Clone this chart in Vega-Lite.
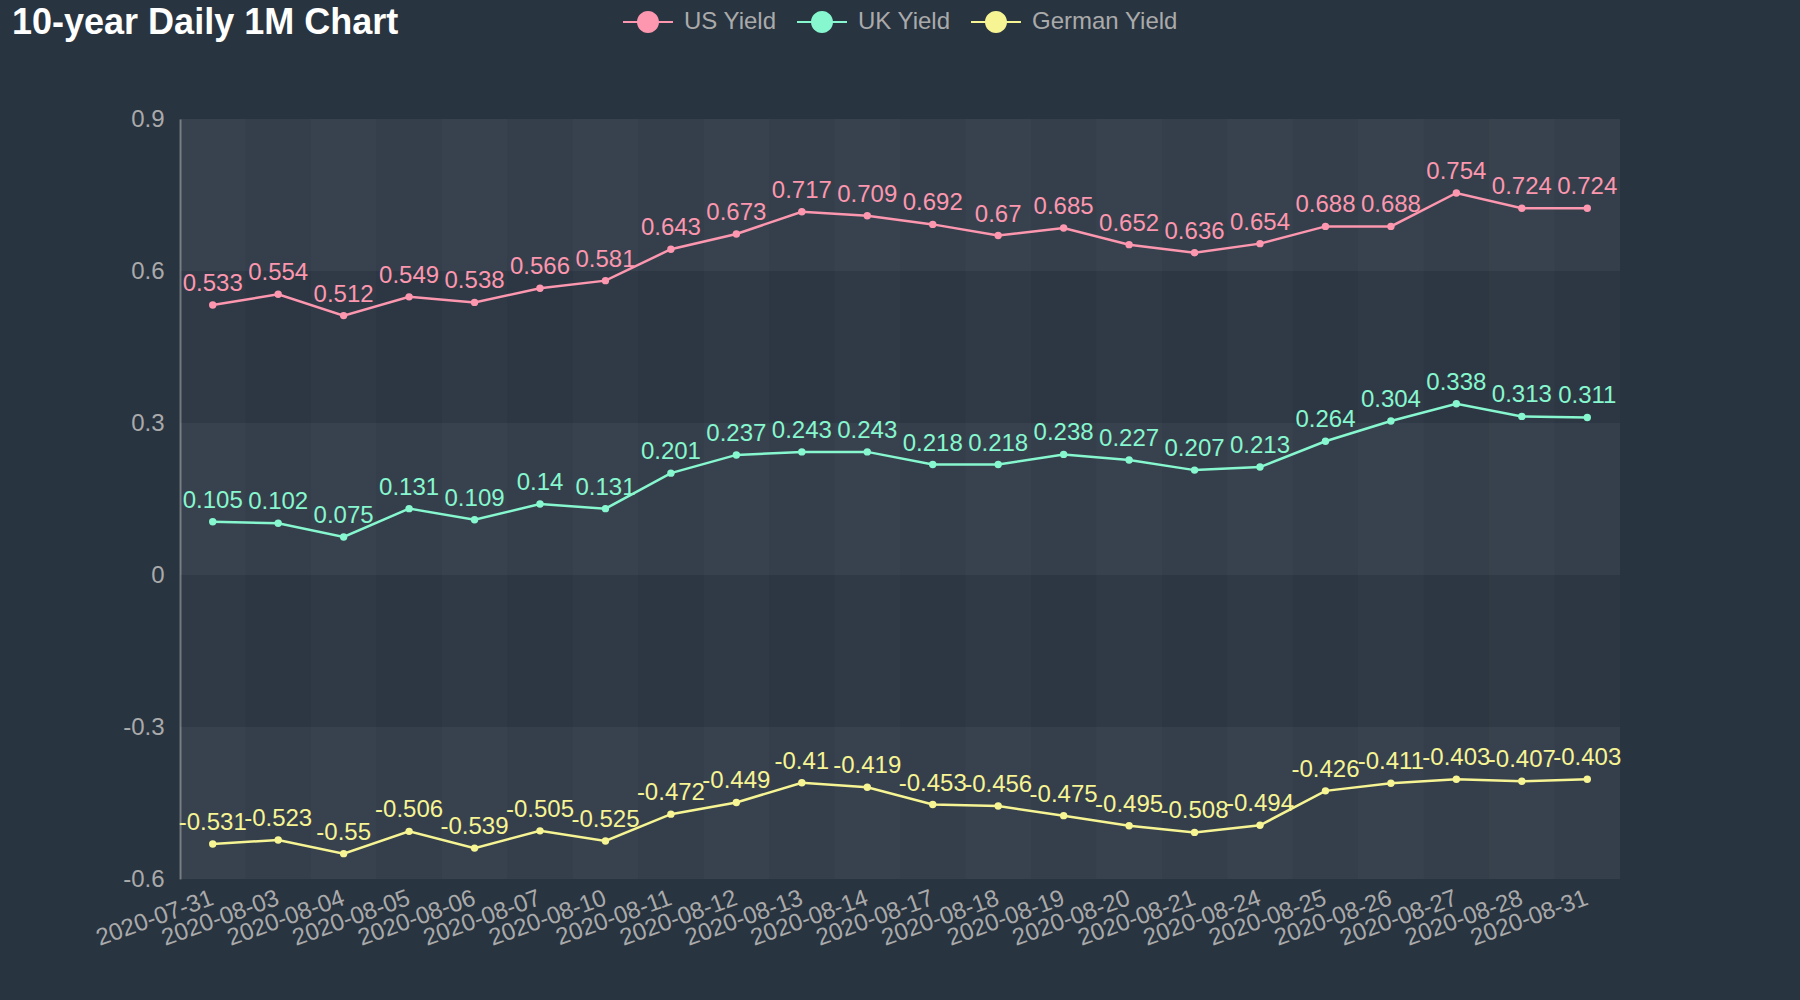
{
  "$schema": "https://vega.github.io/schema/vega-lite/v6.json",
  "description": "10-year government bond yields, daily, Aug 2020",
  "autosize": {"type": "none"},
  "padding": {"left": 180, "top": 119, "right": 180, "bottom": 121},
  "width": 1440,
  "height": 760,
  "background": "#293441",
  "config": {
    "view": {"stroke": null},
    "font": "Liberation Sans"
  },
  "title": {
    "text": "10-year Daily 1M Chart",
    "anchor": "start",
    "frame": "group",
    "fontSize": 36,
    "fontWeight": "bold",
    "color": "#ffffff",
    "font": "Liberation Sans",
    "baseline": "alphabetic",
    "dx": -168,
    "offset": 0,
    "dy": 60
  },
  "datasets": {
    "yields": [
      {"date": "2020-07-31", "series": "US Yield", "yield": 0.533},
      {"date": "2020-08-03", "series": "US Yield", "yield": 0.554},
      {"date": "2020-08-04", "series": "US Yield", "yield": 0.512},
      {"date": "2020-08-05", "series": "US Yield", "yield": 0.549},
      {"date": "2020-08-06", "series": "US Yield", "yield": 0.538},
      {"date": "2020-08-07", "series": "US Yield", "yield": 0.566},
      {"date": "2020-08-10", "series": "US Yield", "yield": 0.581},
      {"date": "2020-08-11", "series": "US Yield", "yield": 0.643},
      {"date": "2020-08-12", "series": "US Yield", "yield": 0.673},
      {"date": "2020-08-13", "series": "US Yield", "yield": 0.717},
      {"date": "2020-08-14", "series": "US Yield", "yield": 0.709},
      {"date": "2020-08-17", "series": "US Yield", "yield": 0.692},
      {"date": "2020-08-18", "series": "US Yield", "yield": 0.67},
      {"date": "2020-08-19", "series": "US Yield", "yield": 0.685},
      {"date": "2020-08-20", "series": "US Yield", "yield": 0.652},
      {"date": "2020-08-21", "series": "US Yield", "yield": 0.636},
      {"date": "2020-08-24", "series": "US Yield", "yield": 0.654},
      {"date": "2020-08-25", "series": "US Yield", "yield": 0.688},
      {"date": "2020-08-26", "series": "US Yield", "yield": 0.688},
      {"date": "2020-08-27", "series": "US Yield", "yield": 0.754},
      {"date": "2020-08-28", "series": "US Yield", "yield": 0.724},
      {"date": "2020-08-31", "series": "US Yield", "yield": 0.724},
      {"date": "2020-07-31", "series": "UK Yield", "yield": 0.105},
      {"date": "2020-08-03", "series": "UK Yield", "yield": 0.102},
      {"date": "2020-08-04", "series": "UK Yield", "yield": 0.075},
      {"date": "2020-08-05", "series": "UK Yield", "yield": 0.131},
      {"date": "2020-08-06", "series": "UK Yield", "yield": 0.109},
      {"date": "2020-08-07", "series": "UK Yield", "yield": 0.14},
      {"date": "2020-08-10", "series": "UK Yield", "yield": 0.131},
      {"date": "2020-08-11", "series": "UK Yield", "yield": 0.201},
      {"date": "2020-08-12", "series": "UK Yield", "yield": 0.237},
      {"date": "2020-08-13", "series": "UK Yield", "yield": 0.243},
      {"date": "2020-08-14", "series": "UK Yield", "yield": 0.243},
      {"date": "2020-08-17", "series": "UK Yield", "yield": 0.218},
      {"date": "2020-08-18", "series": "UK Yield", "yield": 0.218},
      {"date": "2020-08-19", "series": "UK Yield", "yield": 0.238},
      {"date": "2020-08-20", "series": "UK Yield", "yield": 0.227},
      {"date": "2020-08-21", "series": "UK Yield", "yield": 0.207},
      {"date": "2020-08-24", "series": "UK Yield", "yield": 0.213},
      {"date": "2020-08-25", "series": "UK Yield", "yield": 0.264},
      {"date": "2020-08-26", "series": "UK Yield", "yield": 0.304},
      {"date": "2020-08-27", "series": "UK Yield", "yield": 0.338},
      {"date": "2020-08-28", "series": "UK Yield", "yield": 0.313},
      {"date": "2020-08-31", "series": "UK Yield", "yield": 0.311},
      {"date": "2020-07-31", "series": "German Yield", "yield": -0.531},
      {"date": "2020-08-03", "series": "German Yield", "yield": -0.523},
      {"date": "2020-08-04", "series": "German Yield", "yield": -0.55},
      {"date": "2020-08-05", "series": "German Yield", "yield": -0.506},
      {"date": "2020-08-06", "series": "German Yield", "yield": -0.539},
      {"date": "2020-08-07", "series": "German Yield", "yield": -0.505},
      {"date": "2020-08-10", "series": "German Yield", "yield": -0.525},
      {"date": "2020-08-11", "series": "German Yield", "yield": -0.472},
      {"date": "2020-08-12", "series": "German Yield", "yield": -0.449},
      {"date": "2020-08-13", "series": "German Yield", "yield": -0.41},
      {"date": "2020-08-14", "series": "German Yield", "yield": -0.419},
      {"date": "2020-08-17", "series": "German Yield", "yield": -0.453},
      {"date": "2020-08-18", "series": "German Yield", "yield": -0.456},
      {"date": "2020-08-19", "series": "German Yield", "yield": -0.475},
      {"date": "2020-08-20", "series": "German Yield", "yield": -0.495},
      {"date": "2020-08-21", "series": "German Yield", "yield": -0.508},
      {"date": "2020-08-24", "series": "German Yield", "yield": -0.494},
      {"date": "2020-08-25", "series": "German Yield", "yield": -0.426},
      {"date": "2020-08-26", "series": "German Yield", "yield": -0.411},
      {"date": "2020-08-27", "series": "German Yield", "yield": -0.403},
      {"date": "2020-08-28", "series": "German Yield", "yield": -0.407},
      {"date": "2020-08-31", "series": "German Yield", "yield": -0.403}
    ],
    "lightBands": [
      {"lo": -0.6, "hi": -0.3},
      {"lo": 0, "hi": 0.3},
      {"lo": 0.6, "hi": 0.9}
    ],
    "darkBands": [
      {"lo": -0.3, "hi": 0},
      {"lo": 0.3, "hi": 0.6}
    ]
  },
  "encoding": {
    "x": {
      "field": "date",
      "type": "nominal",
      "scale": {"type": "band", "paddingInner": 0, "paddingOuter": 0},
      "axis": {
        "title": null,
        "domain": false,
        "ticks": false,
        "labelAngle": -20,
        "labelAlign": "right",
        "labelBaseline": "middle",
        "labelPadding": 18,
        "labelFontSize": 24,
        "labelColor": "#aaaaaa",
        "labelFont": "Liberation Sans",
        "labelOverlap": false
      }
    }
  },
  "layer": [
    {
      "data": {"name": "darkBands"},
      "mark": {"type": "rect", "fill": "#ffffff", "fillOpacity": 0.015},
      "encoding": {
        "x": null,
        "y": {"field": "lo", "type": "quantitative"},
        "y2": {"field": "hi"}
      }
    },
    {
      "data": {"name": "lightBands"},
      "mark": {"type": "rect", "fill": "#ffffff", "fillOpacity": 0.055},
      "encoding": {
        "x": null,
        "y": {"field": "lo", "type": "quantitative"},
        "y2": {"field": "hi"}
      }
    },
    {
      "data": {"name": "yields"},
      "transform": [
        {"filter": "datum.series === 'US Yield'"},
        {"window": [{"op": "row_number", "as": "idx"}], "sort": [{"field": "date"}]},
        {"filter": "datum.idx % 2 === 1"}
      ],
      "mark": {"type": "rect", "fill": "#ffffff", "fillOpacity": 0.02}
    },
    {
      "mark": {"type": "rule", "color": "#6f737a", "strokeWidth": 1.5},
      "encoding": {"x": null, "y": {"datum": 0, "type": "quantitative"}}
    },
    {
      "data": {"name": "yields"},
      "mark": {"type": "line", "strokeWidth": 2.5},
      "encoding": {
        "y": {
          "field": "yield",
          "type": "quantitative",
          "scale": {"domain": [-0.6, 0.9], "nice": false, "zero": false},
          "axis": {
            "title": null,
            "values": [-0.6, -0.3, 0, 0.3, 0.6, 0.9],
            "grid": false,
            "ticks": false,
            "domainColor": "#6f737a",
            "domainWidth": 2,
            "labelPadding": 16,
            "labelFontSize": 24,
            "labelColor": "#aaaaaa",
            "labelFont": "Liberation Sans",
            "labelExpr": "'' + datum.value"
          }
        },
        "color": {
          "field": "series",
          "type": "nominal",
          "scale": {
            "domain": ["US Yield", "UK Yield", "German Yield"],
            "range": ["#fc97af", "#87f7cf", "#f7f494"]
          },
          "legend": {
            "orient": "none",
            "legendX": 456,
            "legendY": -109,
            "direction": "horizontal",
            "title": null,
            "padding": 0,
            "symbolType": "M-2.27,-0.09H2.27V0.09H-2.27Z M-1,0A1,1 0 1,1 1,0A1,1 0 1,1 -1,0Z",
            "symbolSize": 484,
            "symbolStrokeWidth": 0,
            "labelOffset": 24,
            "columnPadding": 20,
            "labelFontSize": 24,
            "labelColor": "#aaaaaa",
            "labelFont": "Liberation Sans",
            "encode": {
              "symbols": {
                "update": {
                  "fill": {"scale": "color", "field": "value"},
                  "opacity": {"value": 1}
                }
              }
            }
          }
        }
      }
    },
    {
      "data": {"name": "yields"},
      "mark": {"type": "point", "filled": true, "size": 55, "opacity": 1},
      "encoding": {
        "y": {"field": "yield", "type": "quantitative"},
        "color": {"field": "series", "type": "nominal"}
      }
    },
    {
      "data": {"name": "yields"},
      "mark": {"type": "text", "fontSize": 24, "font": "Liberation Sans", "baseline": "alphabetic", "dy": -14},
      "encoding": {
        "y": {"field": "yield", "type": "quantitative"},
        "text": {"field": "yield", "type": "nominal"},
        "color": {"field": "series", "type": "nominal"}
      }
    }
  ]
}
